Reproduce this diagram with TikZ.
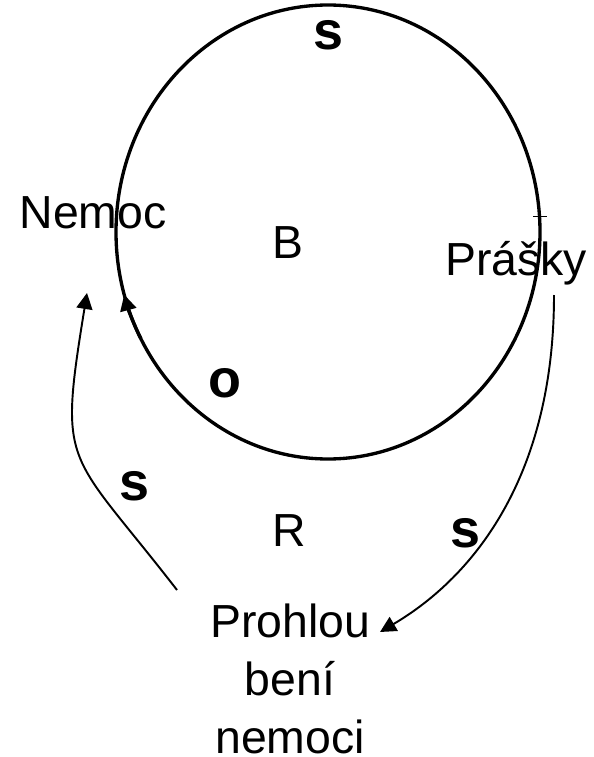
\documentclass[tikz,border=0pt]{standalone}
\usepackage{fontspec}
\setmainfont{Liberation Sans}
\usetikzlibrary{arrows.meta}

\begin{document}
\begin{tikzpicture}[x=0.02cm, y=-0.02cm,
  lbl/.style={anchor=base, inner sep=0pt, font=\fontsize{26.4}{32.9}\selectfont},
  sgn/.style={anchor=base, inner sep=0pt, font=\fontsize{30.7}{36}\selectfont\bfseries},
  loopln/.style={line width=1.9pt},
  tip/.style={-{Triangle[length=0.32cm, width=0.32cm]}},
  arr/.style={tip, line width=1.1pt}]
  \useasboundingbox (0,0) rectangle (593,757);
  % loop B
  \coordinate (c) at (328,232);
  \draw[loopln] (c) ellipse [x radius=212, y radius=227];
  \draw[loopln, tip] (c) ++(152:212 and 227) arc [start angle=152, end angle=164, x radius=212, y radius=227];
  \draw[line width=0.4pt] (533,216) -- (547,216);
  % variables
  \node[lbl] (nemoc) at (93,228) {Nemoc};
  \node[lbl] (prasky) at (516,275) {Prášky};
  \node[lbl, align=center] (prohl) at (290,753) {Prohlou\\bení\\nemoci};
  % loop names
  \node[lbl] (loopB) at (288,258) {B};
  \node[lbl] (loopR) at (289,546) {R};
  % polarities
  \node[sgn] (pol1) at (328,50) {s};
  \node[sgn] (pol2) at (225,397) {o};
  \node[sgn] (pol3) at (134,500) {s};
  \node[sgn] (pol4) at (465,547) {s};
  % links of loop R
  \coordinate (l0) at (177,590);
  \coordinate (l1) at (87,293);
  \coordinate (r0) at (554,295);
  \coordinate (r1) at (380,632);
  \draw[arr] (l0) .. controls (67,448) and (58,471) .. (l1);
  \draw[arr] (r0) .. controls (554,475) and (475,576) .. (r1);
\end{tikzpicture}
\end{document}
